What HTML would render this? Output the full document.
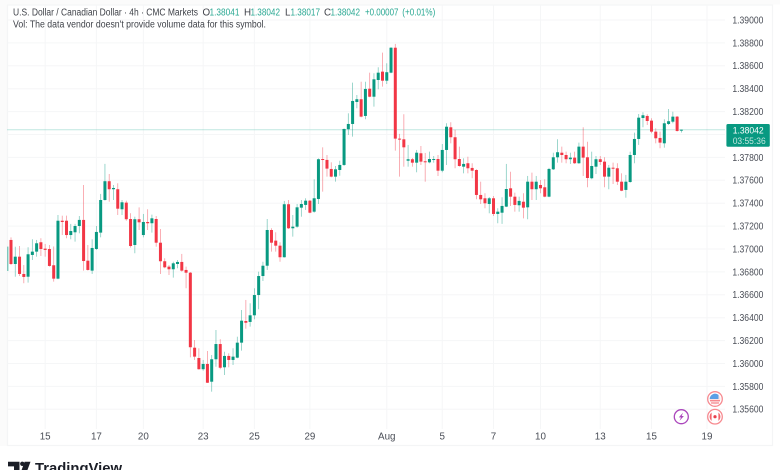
<!DOCTYPE html>
<html lang="en">
<head>
<meta charset="utf-8">
<title>USD/CAD 4h chart</title>
<style>
html,body{margin:0;padding:0;background:#fff;}
body{width:780px;height:470px;overflow:hidden;}
svg{display:block;filter:blur(0.3px);font-family:"Liberation Sans",sans-serif;}
</style>
</head>
<body>
<svg id="chart" width="780" height="470" viewBox="0 0 780 470" xmlns="http://www.w3.org/2000/svg">
  <defs><clipPath id="pane-clip"><rect x="7.5" y="5" width="717.5" height="424"/></clipPath></defs>
  <rect x="0" y="0" width="780" height="470" fill="#ffffff"/>
  <rect x="0" y="0" width="7" height="446" fill="#fbfbfb"/>
  <rect x="0" y="0" width="780" height="4.5" fill="#fbfbfb"/>
  <rect x="7.5" y="5" width="765" height="440.5" fill="#ffffff" stroke="#f4f5f6" stroke-width="1.2"/>
  <g id="grid"></g>
  <g id="price-line"></g>
  <g id="candles" clip-path="url(#pane-clip)"></g>
  <g id="y-axis"></g>
  <g id="x-axis"></g>

  <g font-size="9.8">
    <text x="13" y="15.4" fill="#3f4249" textLength="185" lengthAdjust="spacingAndGlyphs">U.S. Dollar / Canadian Dollar · 4h · CMC Markets</text>
    <text x="202.5" y="15.4" fill="#3f4249">O</text>
    <text x="209.5" y="15.4" fill="#2aa893" textLength="30" lengthAdjust="spacingAndGlyphs">1.38041</text>
    <text x="244" y="15.4" fill="#3f4249">H</text>
    <text x="250.5" y="15.4" fill="#2aa893" textLength="29.5" lengthAdjust="spacingAndGlyphs">1.38042</text>
    <text x="285" y="15.4" fill="#3f4249">L</text>
    <text x="290.5" y="15.4" fill="#2aa893" textLength="29.5" lengthAdjust="spacingAndGlyphs">1.38017</text>
    <text x="324" y="15.4" fill="#3f4249">C</text>
    <text x="330.5" y="15.4" fill="#2aa893" textLength="29.5" lengthAdjust="spacingAndGlyphs">1.38042</text>
    <text x="365" y="15.4" fill="#2aa893" textLength="33.5" lengthAdjust="spacingAndGlyphs">+0.00007</text>
    <text x="402.3" y="15.4" fill="#2aa893" textLength="33" lengthAdjust="spacingAndGlyphs">(+0.01%)</text>
    <text x="13" y="27.6" fill="#3f4249" textLength="253" lengthAdjust="spacingAndGlyphs">Vol: The data vendor doesn't provide volume data for this symbol.</text>
  </g>

  <g>
    <rect x="726.4" y="124" width="43.4" height="22.8" rx="1.5" fill="#089981"/>
    <text x="732.7" y="133.4" font-size="9.6" fill="#ffffff" textLength="31" lengthAdjust="spacingAndGlyphs">1.38042</text>
    <text x="732.7" y="144" font-size="9.6" fill="#c3e6df" textLength="33" lengthAdjust="spacingAndGlyphs">03:55:36</text>
  </g>

  <g>
    <circle cx="715" cy="399" r="7.3" fill="#ffffff" stroke="#f78a90" stroke-width="1.3"/>
    <circle cx="715" cy="399" r="5.4" fill="#fbe3e4"/>
    <path d="M709.7 399 A5.4 5.4 0 0 1 718.5 394.9 L718.5 399 Z" fill="#5a9fe6"/>
    <rect x="710" y="400" width="10" height="1.3" fill="#f78a90"/>
    <rect x="711" y="402.4" width="8" height="1.2" fill="#f78a90"/>
  </g>
  <g>
    <circle cx="715" cy="416.7" r="7.3" fill="#ffffff" stroke="#f78a90" stroke-width="1.3"/>
    <path d="M711.6 412.5 A5.4 5.4 0 0 0 711.6 420.9 Z" fill="#f2646c"/>
    <path d="M718.4 412.5 A5.4 5.4 0 0 1 718.4 420.9 Z" fill="#f2646c"/>
    <circle cx="715" cy="416.7" r="1.6" fill="#e8404c"/>
  </g>
  <g>
    <circle cx="681.3" cy="416.7" r="7" fill="#ffffff" stroke="#ab47bc" stroke-width="1.3"/>
    <path d="M683 412.6 L678.8 417.4 L681 417.4 L679.6 420.8 L683.9 416 L681.7 416 Z" fill="#ab47bc"/>
  </g>

  <g>
    <path d="M8 461.7 H19.5 V475 H14 V466.4 H8 Z M24.6 461.7 H30.5 L25.6 475 H19.8 Z" fill="#1b1e27"/>
    <circle cx="22.3" cy="463.8" r="2.2" fill="#1b1e27"/>
    <text x="35" y="473" font-size="15" font-weight="bold" fill="#1b1e27" textLength="87" lengthAdjust="spacingAndGlyphs">TradingView</text>
  </g>
</svg>
<script>
const priceTicks = [1.39, 1.388, 1.386, 1.384, 1.382, 1.38, 1.378, 1.376, 1.374, 1.372, 1.37, 1.368, 1.366, 1.364, 1.362, 1.36, 1.358, 1.356];
const dateLabels = ['15', '17', '20', '23', '25', '29', 'Aug', '5', '7', '10', '13', '15', '19'];
const dateBars = [9, 21, 32, 46, 58, 71, 89, 102, 114, 125, 139, 151, 164];
const lastPrice = 1.38042;
const opens = [
1.36808,1.37079,1.36869,1.36933,1.36782,1.36758,1.36948,1.36977,1.37059,1.37003,
1.37000,1.36858,1.36741,1.37247,1.37247,1.37122,1.37146,1.37201,1.37254,1.36898,
1.36811,1.37000,1.37143,1.37428,1.37592,1.37522,1.37522,1.37347,1.37405,1.37262,
1.37035,1.37260,1.37122,1.37236,1.37225,1.37262,1.37055,1.36893,1.36846,1.36823,
1.36869,1.36887,1.36817,1.36793,1.36138,1.36048,1.35950,1.35996,1.35841,1.36037,
1.36170,1.35967,1.36066,1.36031,1.36051,1.36182,1.36371,1.36363,1.36421,1.36598,
1.36764,1.36854,1.37166,1.37073,1.37029,1.36928,1.37391,1.37181,1.37195,1.37361,
1.37385,1.37422,1.37326,1.37437,1.37786,1.37778,1.37699,1.37632,1.37690,1.37734,
1.38046,1.38092,1.38284,1.38308,1.38162,1.38400,1.38330,1.38476,1.38549,1.38470,
1.38540,1.38758,1.37964,1.37958,1.37771,1.37784,1.37754,1.37836,1.37766,1.37757,
1.37778,1.37786,1.37684,1.37865,1.38063,1.37976,1.37786,1.37719,1.37749,1.37708,
1.37690,1.37472,1.37443,1.37393,1.37443,1.37306,1.37317,1.37370,1.37530,1.37457,
1.37382,1.37413,1.37364,1.37588,1.37522,1.37559,1.37539,1.37457,1.37696,1.37801,
1.37841,1.37821,1.37784,1.37798,1.37749,1.37894,1.37801,1.37618,1.37719,1.37784,
1.37763,1.37632,1.37710,1.37705,1.37588,1.37516,1.37585,1.37821,1.37961,1.38144,
1.38162,1.38121,1.38025,1.37970,1.37923,1.38092,1.38112,1.38156,1.38041];
const highs = [
1.37067,1.37102,1.37020,1.37026,1.36860,1.37015,1.37085,1.37079,1.37094,1.37044,
1.37035,1.37022,1.37297,1.37291,1.37291,1.37219,1.37219,1.37288,1.37559,1.37035,
1.37085,1.37201,1.37481,1.37743,1.37655,1.37559,1.37574,1.37428,1.37422,1.37312,
1.37282,1.37364,1.37306,1.37347,1.37300,1.37288,1.37175,1.36919,1.36860,1.36889,
1.36904,1.36957,1.36846,1.36799,1.36205,1.36133,1.36031,1.36109,1.36074,1.36293,
1.36212,1.36103,1.36089,1.36133,1.36234,1.36467,1.36555,1.36526,1.36657,1.36802,
1.36889,1.37262,1.37181,1.37146,1.37059,1.37420,1.37428,1.37297,1.37393,1.37428,
1.37443,1.37428,1.37609,1.37792,1.37888,1.37821,1.37757,1.37725,1.37771,1.38054,
1.38185,1.38453,1.38345,1.38461,1.38461,1.38540,1.38535,1.38587,1.38715,1.38622,
1.38762,1.38791,1.38005,1.38177,1.37909,1.37795,1.37865,1.37900,1.37839,1.37850,
1.37812,1.37821,1.37917,1.38098,1.38107,1.38040,1.37894,1.37792,1.37806,1.37749,
1.37696,1.37588,1.37487,1.37454,1.37463,1.37356,1.37452,1.37743,1.37675,1.37492,
1.37457,1.37487,1.37638,1.37667,1.37638,1.37603,1.37609,1.37708,1.37841,1.37958,
1.37894,1.37850,1.37841,1.37850,1.37929,1.38063,1.37937,1.37850,1.37812,1.37812,
1.37801,1.37734,1.37754,1.37749,1.37661,1.37647,1.37850,1.38016,1.38179,1.38194,
1.38177,1.38142,1.38054,1.38025,1.38133,1.38223,1.38199,1.38162,1.38042];
const lows = [
1.36795,1.36860,1.36758,1.36764,1.36701,1.36706,1.36904,1.36933,1.36939,1.36933,
1.36846,1.36715,1.36736,1.37122,1.37094,1.37085,1.37064,1.37137,1.36811,1.36811,
1.36782,1.36992,1.37102,1.37422,1.37413,1.37428,1.37297,1.37297,1.37247,1.37012,
1.36963,1.37166,1.37102,1.37166,1.37143,1.37020,1.36782,1.36832,1.36773,1.36750,
1.36832,1.36802,1.36657,1.36054,1.36031,1.35946,1.35937,1.35830,1.35754,1.35972,
1.35950,1.35900,1.35967,1.35987,1.36046,1.36112,1.36304,1.36322,1.36386,1.36474,
1.36721,1.36817,1.36977,1.36977,1.36889,1.36925,1.37175,1.37108,1.37186,1.37282,
1.37341,1.37312,1.37317,1.37393,1.37501,1.37632,1.37626,1.37588,1.37640,1.37725,
1.37996,1.37981,1.38229,1.38150,1.38133,1.38325,1.38243,1.38395,1.38418,1.38441,
1.38535,1.37859,1.37632,1.37719,1.37719,1.37719,1.37670,1.37734,1.37588,1.37749,
1.37754,1.37638,1.37670,1.37734,1.37923,1.37705,1.37719,1.37661,1.37661,1.37618,
1.37434,1.37393,1.37356,1.37312,1.37288,1.37225,1.37219,1.37366,1.37376,1.37326,
1.37326,1.37268,1.37260,1.37428,1.37428,1.37487,1.37452,1.37452,1.37690,1.37754,
1.37754,1.37749,1.37743,1.37743,1.37743,1.37638,1.37539,1.37609,1.37655,1.37734,
1.37539,1.37522,1.37568,1.37559,1.37505,1.37448,1.37579,1.37749,1.37909,1.38063,
1.38083,1.38011,1.37923,1.37880,1.37885,1.38083,1.38098,1.38025,1.38017];
const closes = [
1.37021,1.36869,1.36933,1.36782,1.36756,1.36954,1.36977,1.37050,1.37000,1.36992,
1.36852,1.36741,1.37247,1.37236,1.37122,1.37157,1.37201,1.37254,1.36895,1.36817,
1.37009,1.37149,1.37428,1.37592,1.37522,1.37533,1.37352,1.37408,1.37260,1.37026,
1.37260,1.37233,1.37236,1.37225,1.37268,1.37055,1.36893,1.36840,1.36823,1.36875,
1.36887,1.36811,1.36793,1.36142,1.36060,1.35950,1.35996,1.35832,1.36037,1.36170,
1.35963,1.36066,1.36031,1.36060,1.36182,1.36374,1.36356,1.36421,1.36598,1.36764,
1.36854,1.37166,1.37055,1.37029,1.36928,1.37391,1.37181,1.37195,1.37364,1.37393,
1.37422,1.37317,1.37443,1.37784,1.37780,1.37702,1.37632,1.37696,1.37734,1.38048,
1.38092,1.38293,1.38308,1.38156,1.38398,1.38330,1.38482,1.38540,1.38470,1.38544,
1.38758,1.37964,1.37958,1.37888,1.37784,1.37754,1.37841,1.37763,1.37760,1.37786,
1.37786,1.37684,1.37865,1.38068,1.37976,1.37784,1.37725,1.37743,1.37705,1.37684,
1.37472,1.37434,1.37399,1.37443,1.37306,1.37326,1.37376,1.37524,1.37457,1.37385,
1.37420,1.37361,1.37588,1.37522,1.37588,1.37530,1.37457,1.37699,1.37801,1.37845,
1.37821,1.37784,1.37798,1.37749,1.37894,1.37798,1.37620,1.37725,1.37784,1.37760,
1.37632,1.37710,1.37702,1.37588,1.37509,1.37588,1.37821,1.37961,1.38147,1.38168,
1.38118,1.38025,1.37967,1.37929,1.38098,1.38116,1.38156,1.38031,1.38042];

const NS = 'http://www.w3.org/2000/svg';
function yAt(price) { return 20 + (1.39 - price) / 0.002 * 22.9; }
function xAt(bar) { return 6.73 + 4.27 * bar; }
function make(tag, attrs, parent) {
  const el = document.createElementNS(NS, tag);
  for (const k in attrs) el.setAttribute(k, attrs[k]);
  parent.appendChild(el);
  return el;
}

const gridG = document.getElementById('grid');
const yAxisG = document.getElementById('y-axis');
const xAxisG = document.getElementById('x-axis');
const lineG = document.getElementById('price-line');
const candleG = document.getElementById('candles');

priceTicks.forEach(function (p) {
  const y = yAt(p);
  const line = make('line', {x1: 7.5, x2: 725, y1: y, y2: y, stroke: '#f5f6f7', 'stroke-width': 1}, gridG);
  
  
  const label = make('text', {x: 732.4, y: y + 3.4, 'font-size': 9.8, fill: '#4a4e57', textLength: 31, lengthAdjust: 'spacingAndGlyphs'}, yAxisG);
  
  
  label.textContent = p.toFixed(5);
});

dateBars.forEach(function (bar, i) {
  const x = xAt(bar);
  const line = make('line', {x1: x, x2: x, y1: 5, y2: 429, stroke: '#f5f6f7', 'stroke-width': 1}, gridG);
  
  
  const label = make('text', {x: x, y: 439.4, 'font-size': 9.8, fill: '#4a4e57', 'text-anchor': 'middle'}, xAxisG);
  
  
  label.textContent = dateLabels[i];
});

const priceLine = make('line', {x1: 7.5, x2: 725, y1: yAt(lastPrice), y2: yAt(lastPrice), stroke: '#7fcfc1', 'stroke-width': 1, 'stroke-dasharray': '1 1'}, lineG);



opens.forEach(function (open, i) {
  const close = closes[i];
  const color = close >= open ? '#089981' : '#f23645';
  const x = xAt(i);
  const wick = make('line', {x1: x, x2: x, y1: yAt(highs[i]), y2: yAt(lows[i]), stroke: color, 'stroke-width': 0.8, 'stroke-opacity': 0.5}, candleG);
  
  
  const top = yAt(Math.max(open, close));
  const bottom = yAt(Math.min(open, close));
  const body = make('rect', {x: x - 1.5, y: top, width: 3, height: Math.max(bottom - top, 1), fill: color}, candleG);
  
  
});
</script>
</body>
</html>
